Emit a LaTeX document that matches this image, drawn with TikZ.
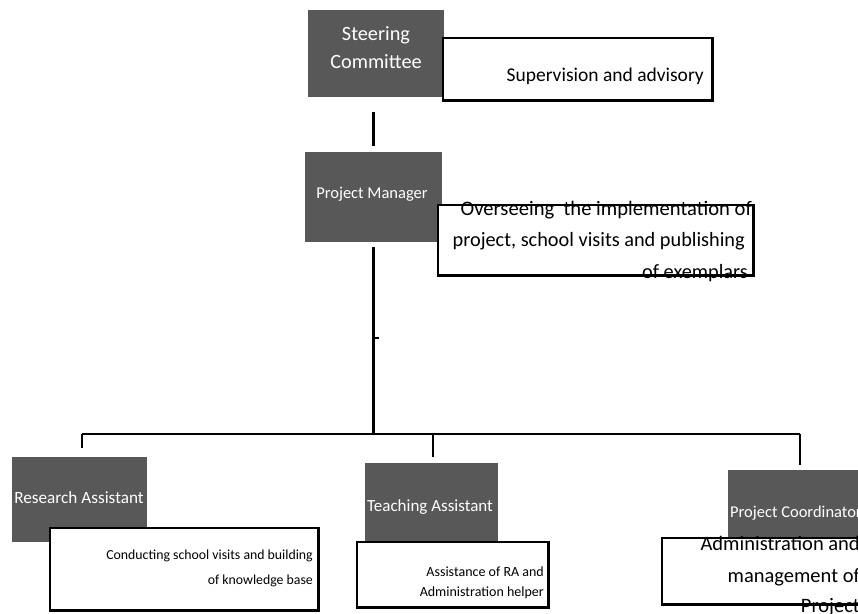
\documentclass[tikz,border=0pt]{standalone}
\usepackage{fontspec}
\setmainfont{Carlito}
\definecolor{boxgray}{RGB}{88,88,88}
\begin{document}
\begin{tikzpicture}[x=1pt,y=-1pt,
  darkbox/.style={fill=boxgray, draw=none, inner sep=0pt, anchor=north west},
  whitebox/.style={fill=white, draw=none, inner sep=0pt, anchor=north west},
  border/.style={draw=black, line width=2.4pt},
  conn/.style={draw=black, line width=2.8pt},
  wlbl/.style={text=white, inner sep=0pt, anchor=base},
  blbl/.style={text=black, inner sep=0pt, anchor=base east},
]
\useasboundingbox (0,0) rectangle (858,613);
\clip (0,0) rectangle (858,613);
\fill[white] (0,0) rectangle (858,613);

% ---------------- Steering Committee
\node[darkbox, minimum width=136pt, minimum height=87pt] (sc) at (308,10) {};
\node[whitebox, minimum width=269pt, minimum height=62pt] (scw) at (443,38) {};
\node[wlbl, font=\fontsize{20.3}{24}\selectfont] (sct1) at (376,40) {Steering};
\node[wlbl, font=\fontsize{20.3}{24}\selectfont] (sct2) at (376,68) {Committee};
\node[blbl, font=\fontsize{19.5}{24}\selectfont] (scwt) at (704,81) {Supervision and advisory};
\draw[border] (scw.north west) rectangle (scw.south east);

% ---------------- Project Manager
\node[darkbox, minimum width=137pt, minimum height=90pt] (pm) at (305,152) {};
\node[whitebox, minimum width=315pt, minimum height=70pt] (pmw) at (438,205) {};
\node[wlbl, font=\fontsize{16.5}{20}\selectfont] (pmt) at (372,198) {Project Manager};
\node[blbl, font=\fontsize{20.6}{24}\selectfont] (pmw1) at (752,215) {Overseeing\ \ the implementation of};
\node[blbl, font=\fontsize{20.3}{24}\selectfont] (pmw2) at (745,246) {project, school visits and publishing};
\node[blbl, font=\fontsize{20.3}{24}\selectfont] (pmw3) at (748,278) {of exemplars};
\draw[border] (pmw.north west) rectangle (pmw.south east);

% ---------------- Research Assistant
\node[darkbox, minimum width=135pt, minimum height=85pt] (ra) at (12,457) {};
\node[whitebox, minimum width=268pt, minimum height=82pt] (raw) at (50,528) {};
\node[wlbl, font=\fontsize{17.2}{20}\selectfont] (rat) at (79,503) {Research Assistant};
\node[blbl, font=\fontsize{13.8}{17}\selectfont] (raw1) at (313,559) {Conducting school visits and building};
\node[blbl, font=\fontsize{13.8}{17}\selectfont] (raw2) at (313,584) {of knowledge base};
\draw[border] (raw.north west) rectangle (raw.south east);

% ---------------- Teaching Assistant
\node[darkbox, minimum width=133pt, minimum height=79pt] (ta) at (365,463) {};
\node[whitebox, minimum width=191pt, minimum height=65pt] (taw) at (357,542) {};
\node[wlbl, font=\fontsize{17}{20}\selectfont] (tat) at (430,511) {Teaching Assistant};
\node[blbl, font=\fontsize{14}{17}\selectfont] (taw1) at (544,576) {Assistance of RA and};
\node[blbl, font=\fontsize{14}{17}\selectfont] (taw2) at (544,596) {Administration helper};
\draw[border] (taw.north west) rectangle (taw.south east);

% ---------------- Project Coordinator
\node[darkbox, minimum width=160pt, minimum height=73pt] (pc) at (728,470) {};
\node[whitebox, minimum width=238pt, minimum height=66pt] (pcw) at (662,538) {};
\node[wlbl, anchor=base west, font=\fontsize{16.5}{20}\selectfont] (pct) at (730,517) {Project Coordinator};
\node[blbl, font=\fontsize{20.5}{24}\selectfont] (pcw1) at (860,550) {Administration and};
\node[blbl, font=\fontsize{20.5}{24}\selectfont] (pcw2) at (860,582) {management of};
\node[blbl, font=\fontsize{20.5}{24}\selectfont] (pcw3) at (860,612) {Project};
\draw[border] (pcw.north west) rectangle (pcw.south east);

% ---------------- Connectors
\coordinate (busL) at (82,434);
\coordinate (busT) at (433,434);
\coordinate (busR) at (800,434);
\coordinate (tickA) at (373,338);
\coordinate (tickB) at (379,338);

\draw[conn, shorten <=15pt, shorten >=6pt] (pm.north |- sc.south) -- (pm.north);
\draw[conn, shorten <=5pt] (pm.south) -- (pm.south |- busL);
\draw[conn] (tickA) -- (tickB);
\draw[conn] (busL) -- (busR);
\draw[conn, shorten >=9pt] (busL) -- (busL |- ra.north);
\draw[conn, shorten >=6pt] (busT) -- (busT |- ta.north);
\draw[conn, shorten >=5pt] (busR) -- (busR |- pc.north);
\end{tikzpicture}
\end{document}
